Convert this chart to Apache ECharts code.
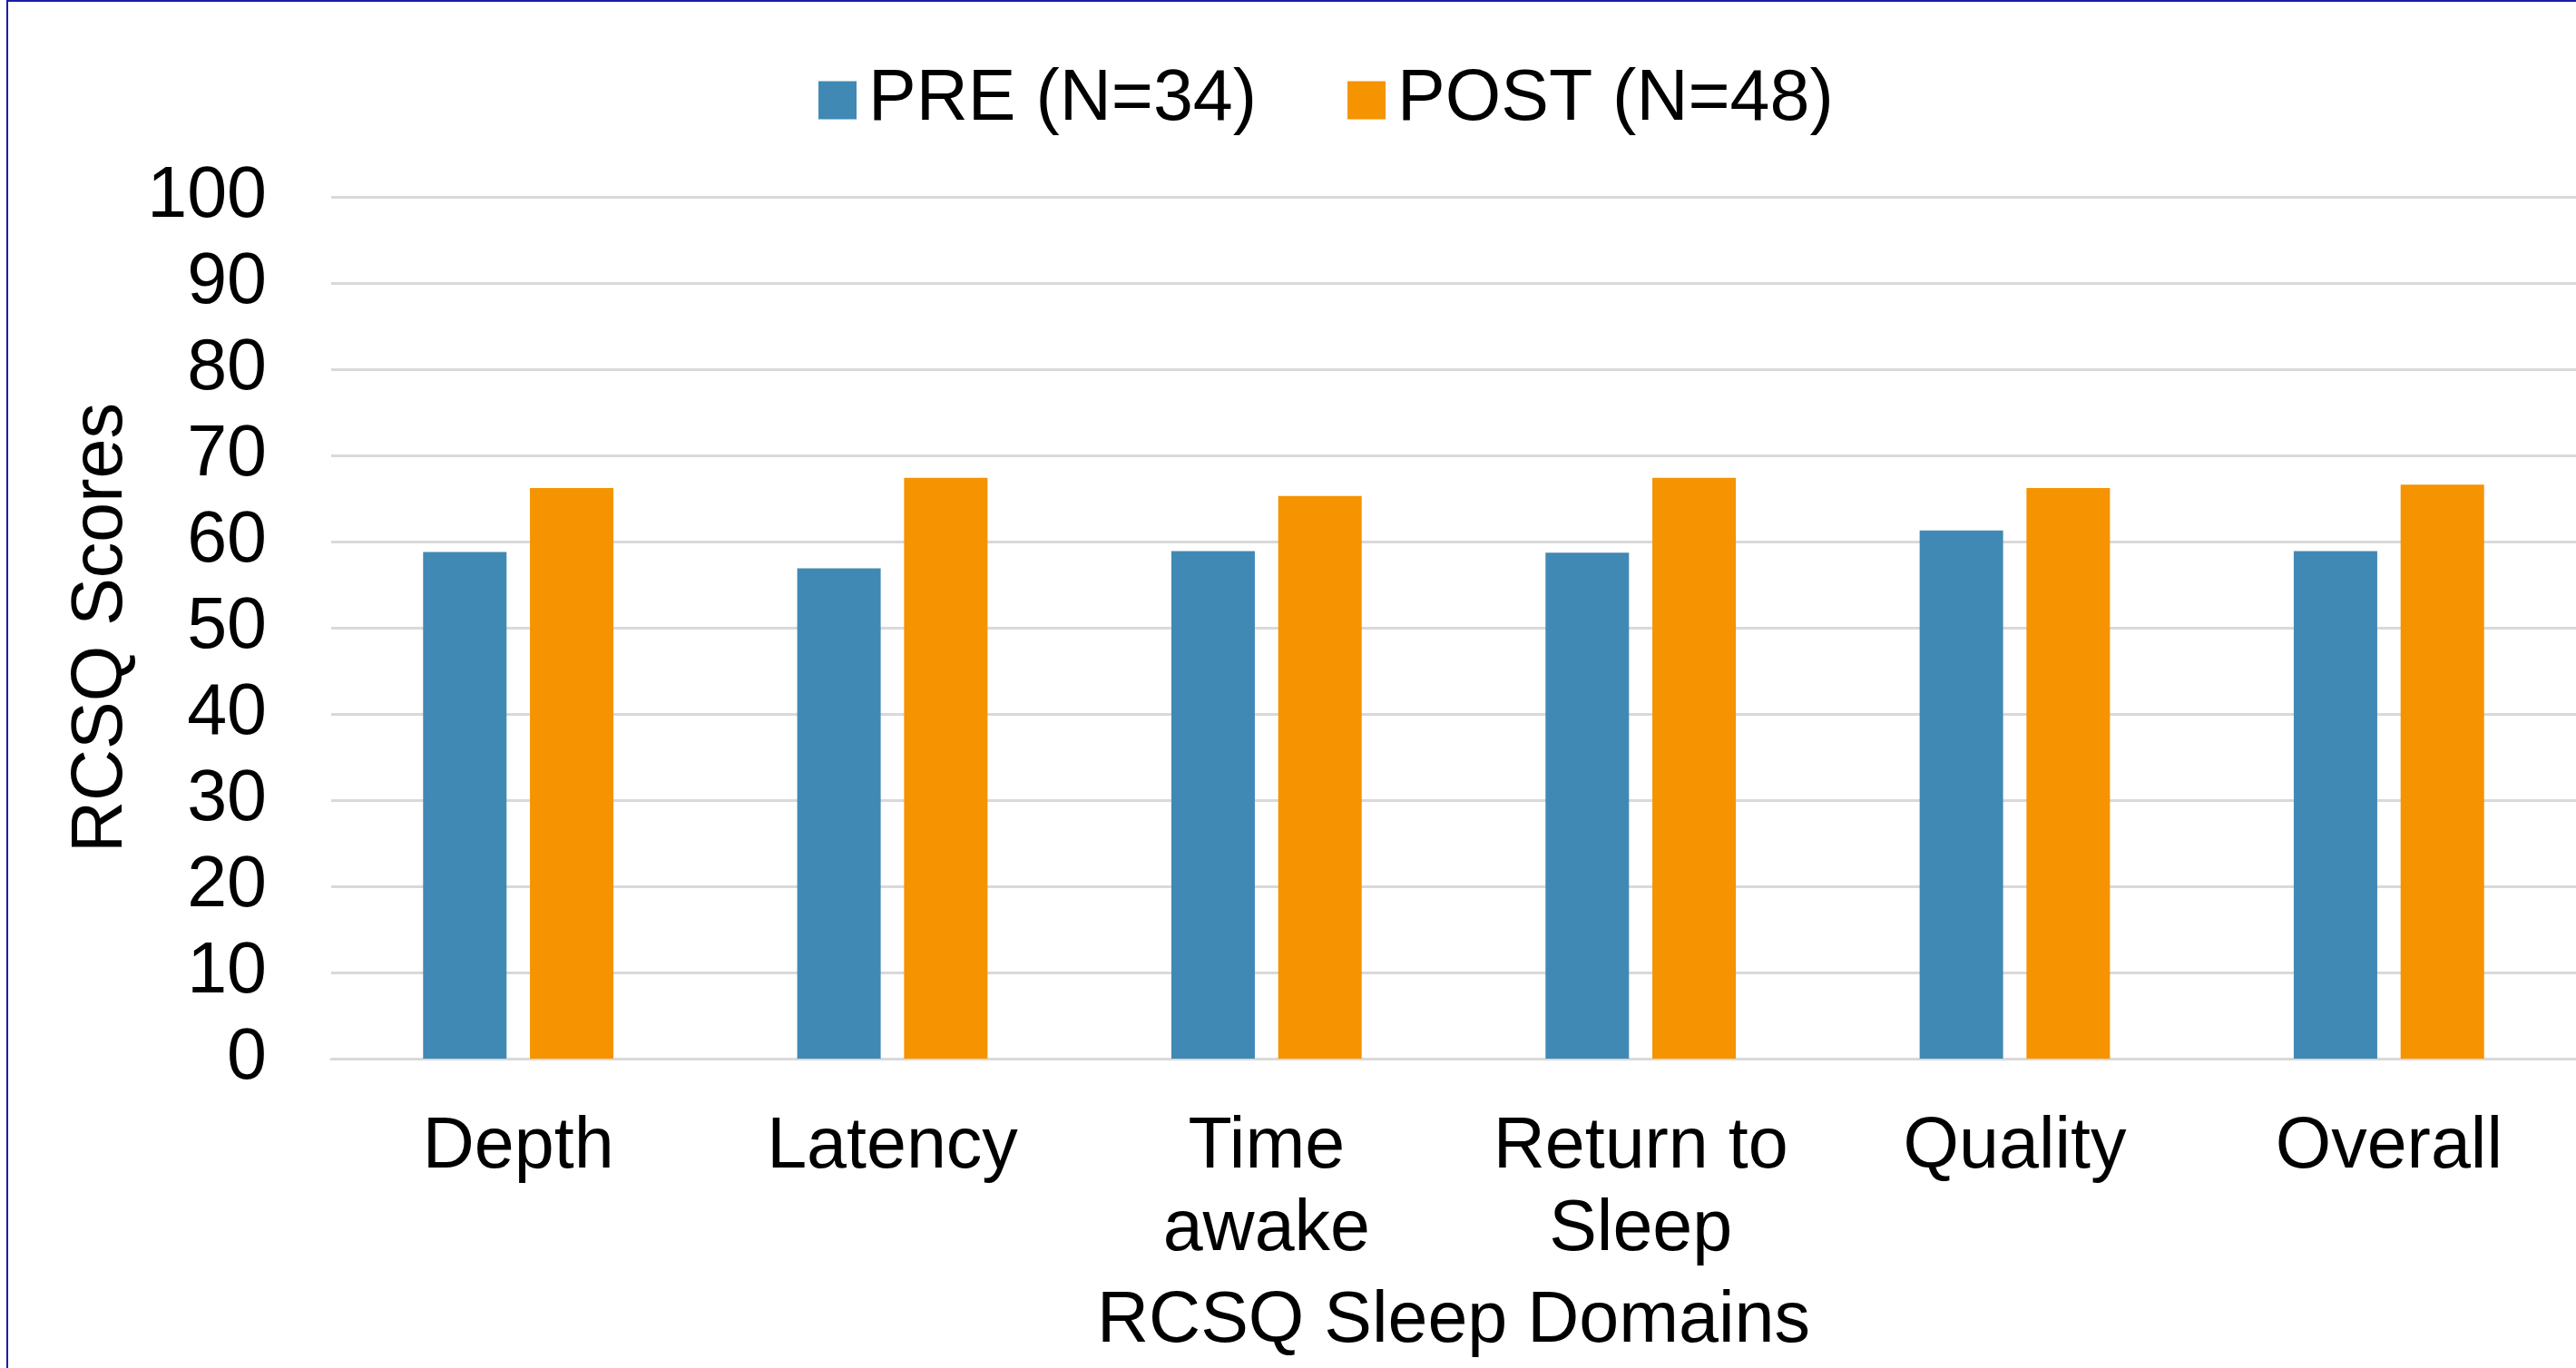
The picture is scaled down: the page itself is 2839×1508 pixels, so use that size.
<!DOCTYPE html>
<html>
<head>
<meta charset="utf-8">
<script src="https://cdn.jsdelivr.net/npm/echarts@6/dist/echarts.min.js"></script>
<style>
  html, body { margin: 0; padding: 0; background: #fff; }
  #chart { width: 2839px; height: 1508px; }
</style>
</head>
<body>
<div id="chart"></div>
<script>
(function() {
  const domains = ['Depth', 'Latency', 'Time\nawake', 'Return to\nSleep', 'Quality', 'Overall'];
  const preScores = [58.8, 56.9, 58.9, 58.7, 61.3, 58.9];
  const postScores = [66.2, 67.4, 65.3, 67.4, 66.2, 66.6];
  const seriesNames = ['PRE (N=34)', 'POST (N=48)'];

  const font = "'Liberation Sans', Arial, sans-serif";
  const chart = echarts.init(document.getElementById('chart'));

  const option = {
    animation: false,
    backgroundColor: '#fff',
    graphic: [
      {
        type: 'rect',
        shape: { x: 8, y: 1, width: 3000, height: 2000 },
        style: { fill: 'none', stroke: '#1c1ca8', lineWidth: 2 },
        silent: true
      }
    ],
    legend: {
      left: 897,
      top: 66,
      itemWidth: 42,
      itemHeight: 42,
      itemGap: 100,
      icon: 'rect',
      textStyle: {
        fontFamily: font,
        fontSize: 79,
        color: '#000',
        padding: [0, 0, 0, 8]
      },
      data: seriesNames
    },
    grid: {
      left: 365,
      top: 217,
      width: 2484,
      height: 956,
      containLabel: false
    },
    xAxis: {
      type: 'category',
      data: domains,
      name: 'RCSQ Sleep Domains',
      nameLocation: 'middle',
      nameGap: 245,
      nameTextStyle: {
        fontFamily: font,
        fontSize: 79,
        color: '#000',
        lineHeight: 91
      },
      axisLine: { lineStyle: { color: '#d9d9d9', width: 3 } },
      axisTick: { show: false },
      axisLabel: {
        interval: 0,
        margin: 53,
        fontFamily: font,
        fontSize: 79,
        lineHeight: 91,
        color: '#000'
      }
    },
    yAxis: {
      type: 'value',
      min: 0,
      max: 100,
      interval: 10,
      name: 'RCSQ Scores',
      nameLocation: 'middle',
      nameGap: 204,
      nameRotate: 90,
      nameTextStyle: {
        fontFamily: font,
        fontSize: 79,
        color: '#000'
      },
      axisLine: { show: false },
      axisTick: { show: false },
      axisLabel: {
        margin: 71,
        fontFamily: font,
        fontSize: 79,
        color: '#000'
      },
      splitLine: { lineStyle: { color: '#d9d9d9', width: 3 } }
    },
    series: [
      {
        name: seriesNames[0],
        type: 'bar',
        data: preScores,
        barWidth: 92,
        barGap: '28%',
        itemStyle: { color: '#4189b5' }
      },
      {
        name: seriesNames[1],
        type: 'bar',
        data: postScores,
        barWidth: 92,
        barGap: '28%',
        itemStyle: { color: '#f59300' }
      }
    ]
  };

  chart.setOption(option);
}());
</script>
</body>
</html>
